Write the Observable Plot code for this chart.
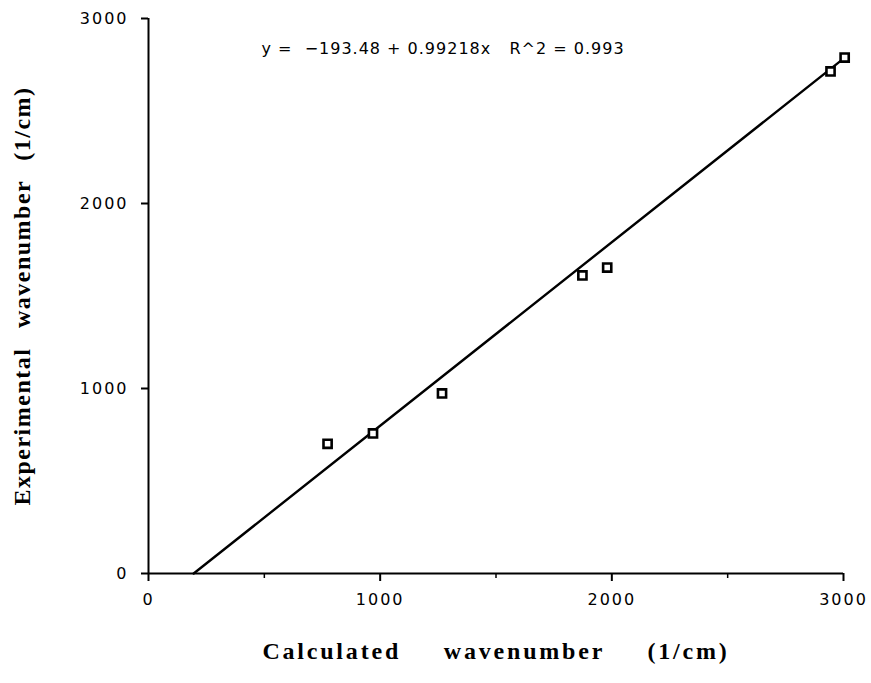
<!DOCTYPE html>
<html>
<head>
<meta charset="utf-8">
<script src="https://cdn.jsdelivr.net/npm/d3@7"></script>
<script src="https://cdn.jsdelivr.net/npm/@observablehq/plot@0.6"></script>
<style>
  html, body { margin: 0; padding: 0; background: #fff; }
</style>
</head>
<body>
<div id="chart"></div>
<script>
// Data
const calculated = [773, 969, 1267, 1873, 1980, 2944, 3005];
const experimental = [701, 757, 973, 1611, 1654, 2714, 2789];
// Regression equation stated on the chart
const intercept = -193.48;
const slope = 0.99218;
const rSquared = 0.993;
const majorTicks = [0, 1000, 2000, 3000];
const minorTicks = [500, 1500, 2500];
const xTitle = "Calculated wavenumber (1/cm)";
const yTitle = "Experimental wavenumber (1/cm)";

const points = calculated.map((x, i) => ({x, y: experimental[i]}));
const xStart = -intercept / slope;
const xEnd = 3000;
const fitLine = [xStart, xEnd].map(x => ({x, y: intercept + slope * x}));
const equation = `y =  \u2212${Math.abs(intercept).toFixed(2)} + ${slope}x   R^2 = ${rSquared}`;

const tickFont = "DejaVu Sans, Liberation Sans, sans-serif";
const labelFont = "Liberation Serif, DejaVu Serif, serif";
const fmt = d3.format("d");

const chart = Plot.plot({
  width: 871,
  height: 683,
  marginLeft: 148,
  marginRight: 28,
  marginTop: 18,
  marginBottom: 110,
  x: {domain: [0, 3000]},
  y: {domain: [0, 3000]},
  style: {background: "#fff", color: "#000", fontFamily: tickFont},
  marks: [
    Plot.ruleY([0], {stroke: "#000", strokeWidth: 2}),
    Plot.ruleX([0], {stroke: "#000", strokeWidth: 2}),
    Plot.axisX({ticks: majorTicks, tickSize: 8, tickPadding: 12, fontSize: 16, strokeWidth: 2, label: null, tickFormat: fmt}),
    Plot.axisX({ticks: minorTicks, tickSize: 5, tickFormat: () => "", strokeWidth: 1.5, label: null}),
    Plot.axisY({ticks: majorTicks, tickSize: 7, tickPadding: 13, fontSize: 16, strokeWidth: 2, label: null, tickFormat: fmt}),
    Plot.line(fitLine, {x: "x", y: "y", stroke: "#000", strokeWidth: 2.4}),
    Plot.dot(points, {x: "x", y: "y", symbol: "square", r: 4.6, stroke: "#000", strokeWidth: 2.6, fill: "#fff"}),
    Plot.text([equation], {frameAnchor: "top-left", dx: 113, dy: 24, textAnchor: "start", fontSize: 16, fontFamily: tickFont}),
    Plot.text([xTitle], {frameAnchor: "bottom", dy: 85, textAnchor: "middle", fontSize: 24, fontWeight: "bold", fontFamily: labelFont}),
    Plot.text([yTitle], {frameAnchor: "left", dx: -126, rotate: -90, textAnchor: "middle", fontSize: 24, fontWeight: "bold", fontFamily: labelFont})
  ]
});
// spacing tweaks to match the reference's wide typesetting
chart.querySelectorAll("text").forEach(t => {
  const s = t.textContent;
  if (s === xTitle) {
    t.style.letterSpacing = "2.8px";
    t.style.wordSpacing = "34px";
  } else if (s === yTitle) {
    t.style.letterSpacing = "1.5px";
    t.style.wordSpacing = "12px";
  } else if (s === equation) {
    t.style.letterSpacing = "1px";
  } else {
    t.style.letterSpacing = "2px";
  }
});
document.getElementById("chart").appendChild(chart);
</script>
</body>
</html>
